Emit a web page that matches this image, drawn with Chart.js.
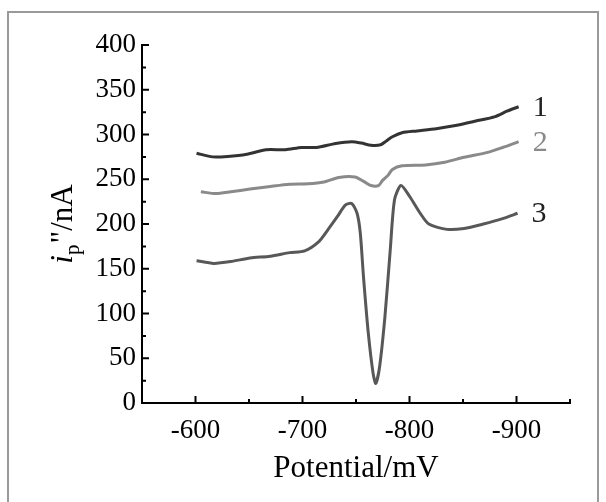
<!DOCTYPE html>
<html>
<head>
<meta charset="utf-8">
<script src="https://cdn.jsdelivr.net/npm/chart.js@4/dist/chart.umd.min.js"></script>
<style>
  html, body { margin: 0; padding: 0; background: #fff; }
  #wrap { width: 606px; height: 502px; position: relative; }
</style>
</head>
<body>
<div id="wrap"><canvas id="myChart"></canvas></div>
<script>
// ---- data ----
const xTicks = [-600, -700, -800, -900];
const yTicks = [0, 50, 100, 150, 200, 250, 300, 350, 400];
const curveNames = ['1', '2', '3'];
const curveColors = ['#333333', '#8a8a8a', '#585858'];

const potential1 = [-601, -616, -630, -648, -666, -684, -699, -713, -731, -746, -755, -764, -773, -778, -784, -793, -807, -825, -843, -862, -880, -891, -902];
const current1   = [279, 275, 275.5, 278, 283, 283, 285.5, 285.5, 290, 292, 290.5, 288, 288.5, 292.5, 297.5, 302, 304, 306.5, 310, 315, 320, 326, 331];

const potential2 = [-605, -619, -633, -651, -670, -688, -705, -720, -734, -749, -758, -764, -771, -775, -780, -784, -793, -815, -833, -851, -873, -887, -902];
const current2   = [236, 234, 236, 239, 242, 244.5, 245, 247, 252, 252.5, 247, 243, 243, 249, 254.5, 261, 265, 266, 269, 274.5, 280, 285.5, 292];

const potential3 = [-601, -617, -633, -651, -670, -688, -702, -715, -724, -733, -740, -746, -751, -754, -757, -761.5, -766, -768.5, -772, -777, -782, -786, -792, -800, -810, -818, -835, -851, -869, -887, -901];
const current3   = [159, 156, 158, 162, 164, 168, 170, 180, 194, 209, 221, 223, 212, 190, 141, 78, 33, 22, 40, 96, 171, 227, 243, 231, 212, 200, 194, 195, 200, 206, 212];

const SERIF = '"Liberation Serif", "DejaVu Serif", serif';

function toPoints(xs, ys) {
  return xs.map((x, i) => ({ x: x, y: ys[i] }));
}

// frame, inward ticks, axis titles and curve numbers
const decorations = {
  id: 'decorations',
  beforeDraw(chart) {
    const ctx = chart.ctx;
    ctx.save();
    ctx.fillStyle = '#fff';
    ctx.fillRect(0, 0, chart.width, chart.height);
    ctx.strokeStyle = '#9a9a9a';
    ctx.lineWidth = 2;
    ctx.strokeRect(8, 12, 590, 500);
    ctx.restore();
  },
  afterDraw(chart) {
    const ctx = chart.ctx;
    const xs = chart.scales.x;
    const ys = chart.scales.y;
    const area = chart.chartArea;
    ctx.save();
    ctx.strokeStyle = '#000';
    ctx.lineWidth = 2;
    ctx.beginPath();
    for (let v = 0; v <= 400; v += 25) {
      const py = ys.getPixelForValue(v);
      const len = v % 50 === 0 ? 7 : 4;
      ctx.moveTo(area.left, py);
      ctx.lineTo(area.left + len, py);
    }
    for (let v = -550; v >= -950; v -= 50) {
      const px = xs.getPixelForValue(v);
      const len = v % 100 === 0 ? 7 : 4;
      ctx.moveTo(px, area.bottom);
      ctx.lineTo(px, area.bottom - len);
    }
    ctx.stroke();

    // x axis title
    ctx.fillStyle = '#000';
    ctx.font = '31px ' + SERIF;
    ctx.textAlign = 'center';
    ctx.textBaseline = 'alphabetic';
    ctx.fillText('Potential/mV', (area.left + area.right) / 2, 477);

    // y axis title: i_p"/nA
    ctx.textAlign = 'left';
    ctx.translate(62, 224);
    ctx.rotate(-Math.PI / 2);
    const big = '31px ' + SERIF;
    const ital = 'italic 31px ' + SERIF;
    const small = '21px ' + SERIF;
    ctx.font = ital; const w1 = ctx.measureText('i').width;
    ctx.font = small; const w2 = ctx.measureText('p').width;
    ctx.font = big; const w3 = ctx.measureText('"/nA').width;
    let x0 = -(w1 + w2 + w3 + 1) / 2;
    ctx.font = ital; ctx.fillText('i', x0, 10); x0 += w1;
    ctx.font = small; ctx.fillText('p', x0, 17); x0 += w2 + 1;
    ctx.font = big; ctx.fillText('"/nA', x0, 10);
    ctx.restore();

    // curve numbers next to the line ends
    ctx.save();
    ctx.font = '30px ' + SERIF;
    ctx.textBaseline = 'middle';
    chart.data.datasets.forEach((ds, i) => {
      const last = ds.data[ds.data.length - 1];
      ctx.fillStyle = i === 1 ? '#8a8a8a' : '#222';
      ctx.fillText(curveNames[i], xs.getPixelForValue(last.x) + 14, ys.getPixelForValue(last.y) + 1);
    });
    ctx.restore();
  }
};

const ctx = document.getElementById('myChart').getContext('2d');
new Chart(ctx, {
  type: 'line',
  data: {
    datasets: [
      { label: curveNames[0], data: toPoints(potential1, current1) },
      { label: curveNames[1], data: toPoints(potential2, current2) },
      { label: curveNames[2], data: toPoints(potential3, current3) }
    ].map((ds, i) => Object.assign(ds, {
      borderColor: curveColors[i],
      borderWidth: 3,
      pointRadius: 0,
      tension: 0.25,
      fill: false
    }))
  },
  options: {
    responsive: true,
    maintainAspectRatio: false,
    animation: false,
    layout: { padding: { left: 0, top: 45, right: 36, bottom: 0 } },
    plugins: { legend: { display: false }, tooltip: { enabled: false } },
    scales: {
      x: {
        type: 'linear',
        reverse: true,
        min: -950,
        max: -550,
        afterBuildTicks: s => { s.ticks = xTicks.map(v => ({ value: v })); },
        afterFit: s => { s.height = 99; },
        grid: { display: false, drawTicks: false },
        border: { display: true, color: '#000', width: 2 },
        ticks: { color: '#000', padding: 12, maxRotation: 0, font: { family: SERIF, size: 27 } }
      },
      y: {
        min: 0,
        max: 400,
        afterBuildTicks: s => { s.ticks = yTicks.map(v => ({ value: v })); },
        afterFit: s => { s.width = 142; },
        grid: { display: false, drawTicks: false },
        border: { display: true, color: '#000', width: 2 },
        ticks: { color: '#000', padding: 6, font: { family: SERIF, size: 27 } }
      }
    }
  },
  plugins: [decorations]
});
</script>
</body>
</html>
